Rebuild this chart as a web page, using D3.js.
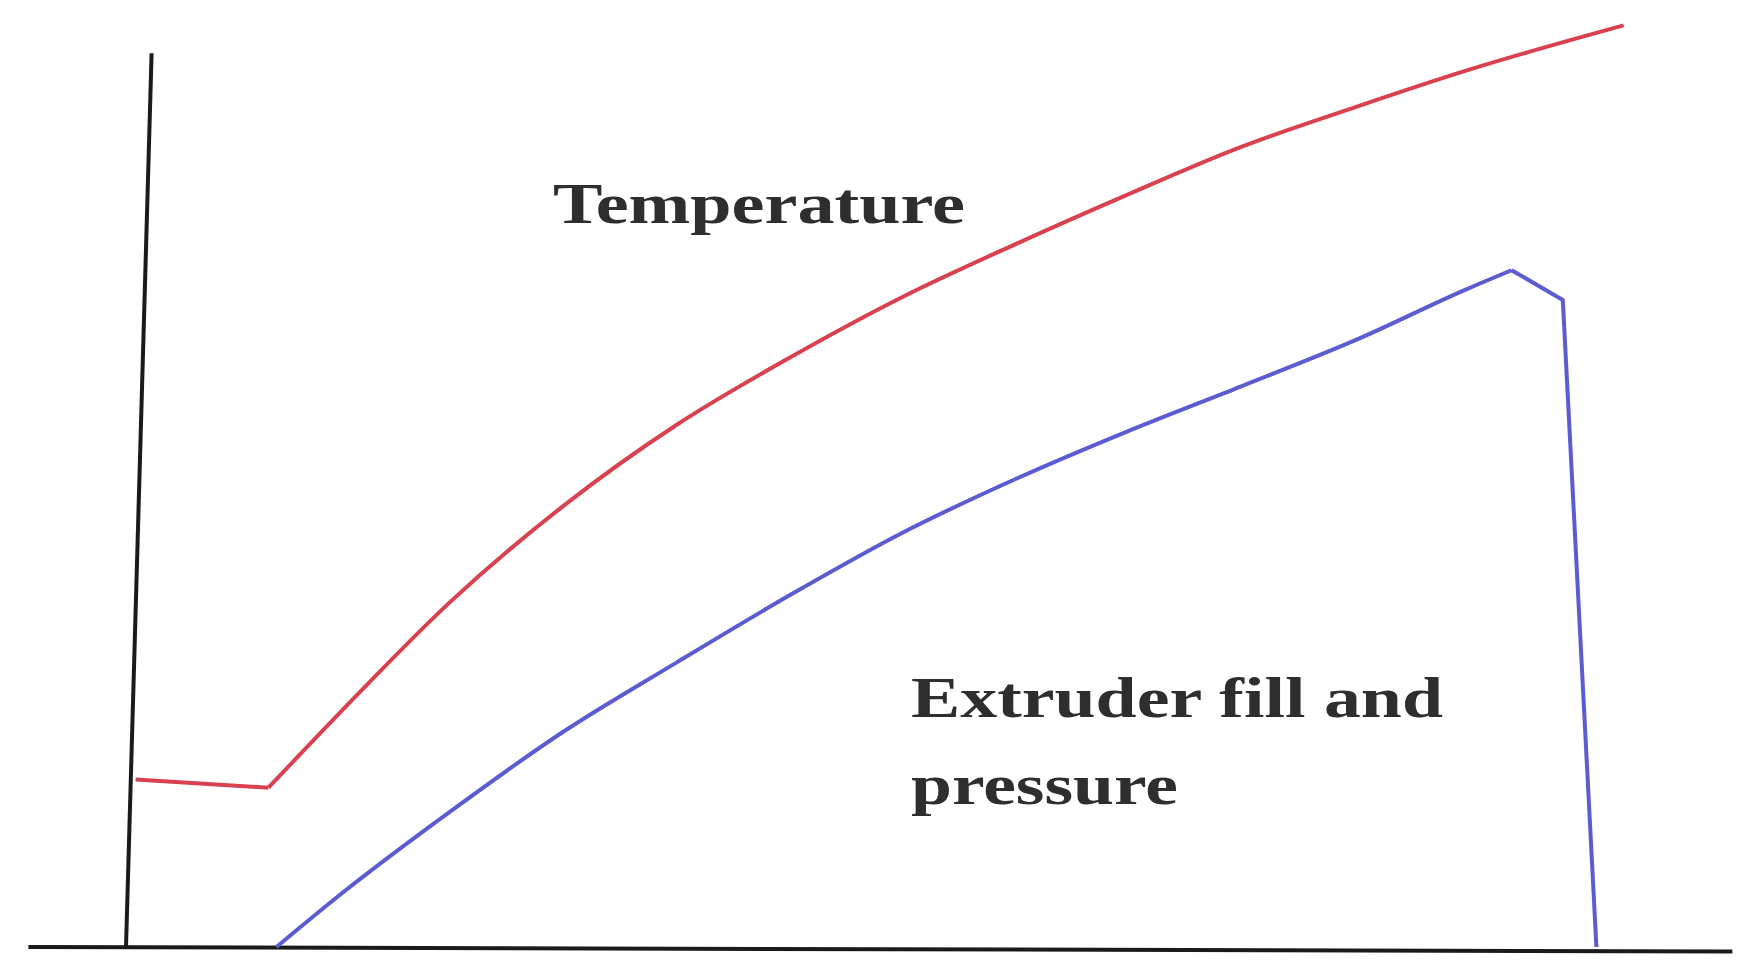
<!DOCTYPE html>
<html><head><meta charset="utf-8">
<script src="https://cdn.jsdelivr.net/npm/d3@7"></script>
<style>body{margin:0;background:#fff}</style></head>
<body><div id="chart-area"></div>
<script>
const WIDTH = 1762, HEIGHT = 975

// curve values, arbitrary units (time, level)
const tempX = [0.6, 8.9, 13.3, 20.3, 27.4, 34.4, 41.5, 48.5, 55.6, 62.6, 69.7, 76.8, 83.8, 93.6]
const tempY = [18.6, 17.7, 25.9, 38.4, 49.1, 58, 65.5, 72.2, 78.1, 83.6, 88.9, 93.3, 97.4, 102.4]
const fillX = [9.4, 13.3, 20.3, 27.4, 34.4, 41.5, 48.5, 55.6, 62.6, 69.7, 76.8, 83.8, 86.6, 89.8, 91.9]
const fillY = [0, 5.7, 15.1, 24, 31.6, 39.1, 46, 52, 57.3, 62.3, 67.4, 73.1, 75.2, 71.9, 0]
const yAxisPts = [[0, 0], [1.6, 99.3]]
const xAxisPts = [[-6.1, 0], [100.4, -0.5]]

const x = d3.scaleLinear().domain([0, 100]).range([126, 1726])
const y = d3.scaleLinear().domain([0, 100]).range([947, 47])

const svg = d3.select("#chart-area").append("svg")
  .attr("width", WIDTH).attr("height", HEIGHT)

const straight = d3.line().x(d => x(d[0])).y(d => y(d[1]))
const curve = d3.line().x(d => x(d[0])).y(d => y(d[1])).curve(d3.curveMonotoneX)

const draw = (d, color) => svg.append("path").attr("d", d)
  .attr("stroke", color).attr("stroke-width", 4).attr("fill", "none")
  .attr("stroke-linejoin", "round")

draw(straight(yAxisPts), "#1a1a1a")
draw(straight(xAxisPts), "#1a1a1a")

// temperature: flat start, corner, then smooth rise
const tempPts = d3.zip(tempX, tempY)
draw(straight(tempPts.slice(0, 2)), "#d9414f")
draw(curve(tempPts.slice(1)), "#d9414f")

// fill: smooth rise, then sharp corners at the top and drop
const fillPts = d3.zip(fillX, fillY)
draw(curve(fillPts.slice(0, 13)), "#5b5bd2")
draw(straight(fillPts.slice(12)), "#5b5bd2")

const label = (tx, ty, len, t) => svg.append("text")
  .attr("x", tx).attr("y", ty)
  .attr("font-family", "Liberation Serif, DejaVu Serif, serif")
  .attr("font-weight", "bold").attr("font-size", "56px")
  .attr("textLength", len).attr("lengthAdjust", "spacingAndGlyphs")
  .attr("fill", "#2e2e2e").text(t)

label(553, 223, 412, "Temperature")
label(911, 717, 532, "Extruder fill and")
label(911, 804, 267, "pressure")
</script>
</body></html>
